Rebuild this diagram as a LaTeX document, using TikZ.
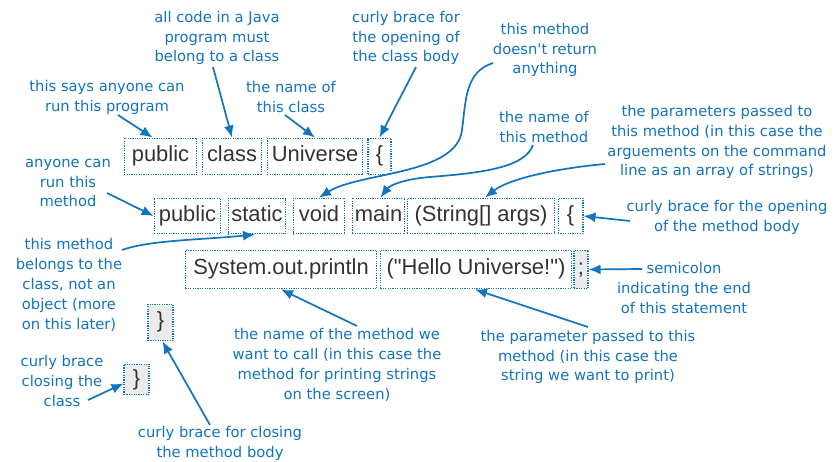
\documentclass[tikz,border=0pt]{standalone}
\usepackage{fontspec}
\setmainfont{DejaVu Sans}
\newfontfamily\codefont{Liberation Sans}
\usetikzlibrary{arrows.meta,positioning}
\definecolor{noteblue}{RGB}{18,115,190}
\definecolor{codegrey}{RGB}{51,51,51}

\begin{document}
\begin{tikzpicture}[x=1bp,y=-1bp,
  code/.style={draw=noteblue,dash pattern=on 1.2bp off 1.2bp,line width=1.1bp,inner sep=1bp,
    text=codegrey,text height=16bp,text depth=5bp,font=\codefont\fontsize{22}{26}\selectfont},
  shut/.style={code,fill=black!8},
  note/.style={text=noteblue,align=center,font=\fontsize{14.8}{20}\selectfont},
  pointer/.style={noteblue,line width=1.7bp,-{Latex[length=12bp,width=10bp]}}]
\useasboundingbox (0,0) rectangle (835,462);

\node[code,minimum width=73,minimum height=37] (pubA) at (160.5,156.5) {public};
\node[code,minimum width=60,minimum height=37] (clsA) at (232,156.5) {class};
\node[code,minimum width=96,minimum height=37] (uniA) at (315,156.5) {Universe};
\node[code,minimum width=23,minimum height=37] (lbrA) at (379.5,156.5) {\{};

\node[code,minimum width=67,minimum height=36] (pubB) at (187.5,216) {public};
\node[code,minimum width=58,minimum height=36] (stat) at (257,216) {static};
\node[code,minimum width=52,minimum height=36] (void) at (319,216) {void};
\node[code,minimum width=53,minimum height=36] (main) at (378.5,216) {main};
\node[code,minimum width=148,minimum height=36] (args) at (481,216) {(String[] args)};
\node[code,minimum width=25,minimum height=36] (lbrB) at (570.5,216) {\{};

\node[code,minimum width=192,minimum height=39] (prt) at (281,269.5) {System.out.println};
\node[code,minimum width=192,minimum height=39] (str) at (476,269.5) {("Hello Universe!")};
\node[shut,minimum width=14,minimum height=39] (semi) at (581,269.5) {;};

\node[shut,minimum width=25,minimum height=37] (rbrB) at (160.5,322.5) {\}};
\node[shut,minimum width=25,minimum height=31] (rbrA) at (136.5,379.5) {\}};

\node[note] (sayrun) at (107,97) {this says anyone can\\run this program};
\node[note] (java) at (217,38) {all code in a Java\\program must\\belong to a class};
\node[note] (clsname) at (291,97) {the name of\\this class};
\node[note] (clsopen) at (406,38) {curly brace for\\the opening of\\the class body};
\node[note] (noret) at (545,50) {this method\\doesn\textquotesingle t return\\anything};
\node[note] (mthname) at (544,127) {the name of\\this method};
\node[note] (params) at (717,142) {the parameters passed to\\this method (in this case the\\arguements on the command\\line as an array of strings)};
\node[note] (mthopen) at (727,217) {curly brace for the opening\\of the method body};
\node[note] (anyone) at (68,183) {anyone can\\run this\\method};
\node[note] (belongs) at (69,285) {this method\\belongs to the\\class, not an\\object (more\\on this later)};
\node[note] (semnote) at (684,288) {semicolon\\indicating the end\\of this statement};
\node[note] (clsclose) at (62,381) {curly brace\\closing the\\class};
\node[note] (callname) at (337,365) {the name of the method we\\want to call (in this case the\\method for printing strings\\on the screen)};
\node[note] (argnote) at (588,357) {the parameter passed to this\\method (in this case the\\string we want to print)};
\node[note] (mthclose) at (220,443) {curly brace for closing\\the method body};

\coordinate (t1) at (118,115);
\coordinate (t2) at (213,67);
\coordinate (t3) at (285,115);
\coordinate (t4) at (416,67);
\coordinate (t5) at (493,63);
\coordinate (t6) at (533,145);
\coordinate (t7) at (605,164);
\coordinate (t8) at (630,221);
\coordinate (t9) at (107,193);
\coordinate (t10) at (122,250);
\coordinate (t11) at (642,269);
\coordinate (t12) at (88,400);
\coordinate (t13) at (357,326);
\coordinate (t14) at (588,327);
\coordinate (t15) at (210,425);

\draw[pointer] (t1) -- ([xshift=-8]pubA.north);
\draw[pointer] (t2) -- (clsA.north);
\draw[pointer] (t3) -- (uniA.north);
\draw[pointer] (t4) -- (lbrA.north);
\draw[pointer] (t5) .. controls (465,72) and (466,100) .. (462,130) .. controls (457,175) and (360,172) .. (void.north);
\draw[pointer] (t6) .. controls (525,168) and (480,173) .. (430,177) .. controls (405,179) and (390,185) .. ([xshift=2]main.north);
\draw[pointer] (t7) .. controls (560,168) and (510,178) .. ([xshift=4]args.north);
\draw[pointer] (t8) -- (lbrB.east);
\draw[pointer] (t9) -- (pubB.west);
\draw[pointer] (t10) .. controls (150,240) and (200,240) .. ([xshift=-2]stat.south);
\draw[pointer] (t11) -- (semi.east);
\draw[pointer] (t12) -- ([yshift=-4]rbrA.west);
\draw[pointer] (t13) -- (prt.south);
\draw[pointer] (t14) -- ([xshift=-1]str.south);
\draw[pointer] (t15) -- ([xshift=2]rbrB.south);
\end{tikzpicture}
\end{document}
